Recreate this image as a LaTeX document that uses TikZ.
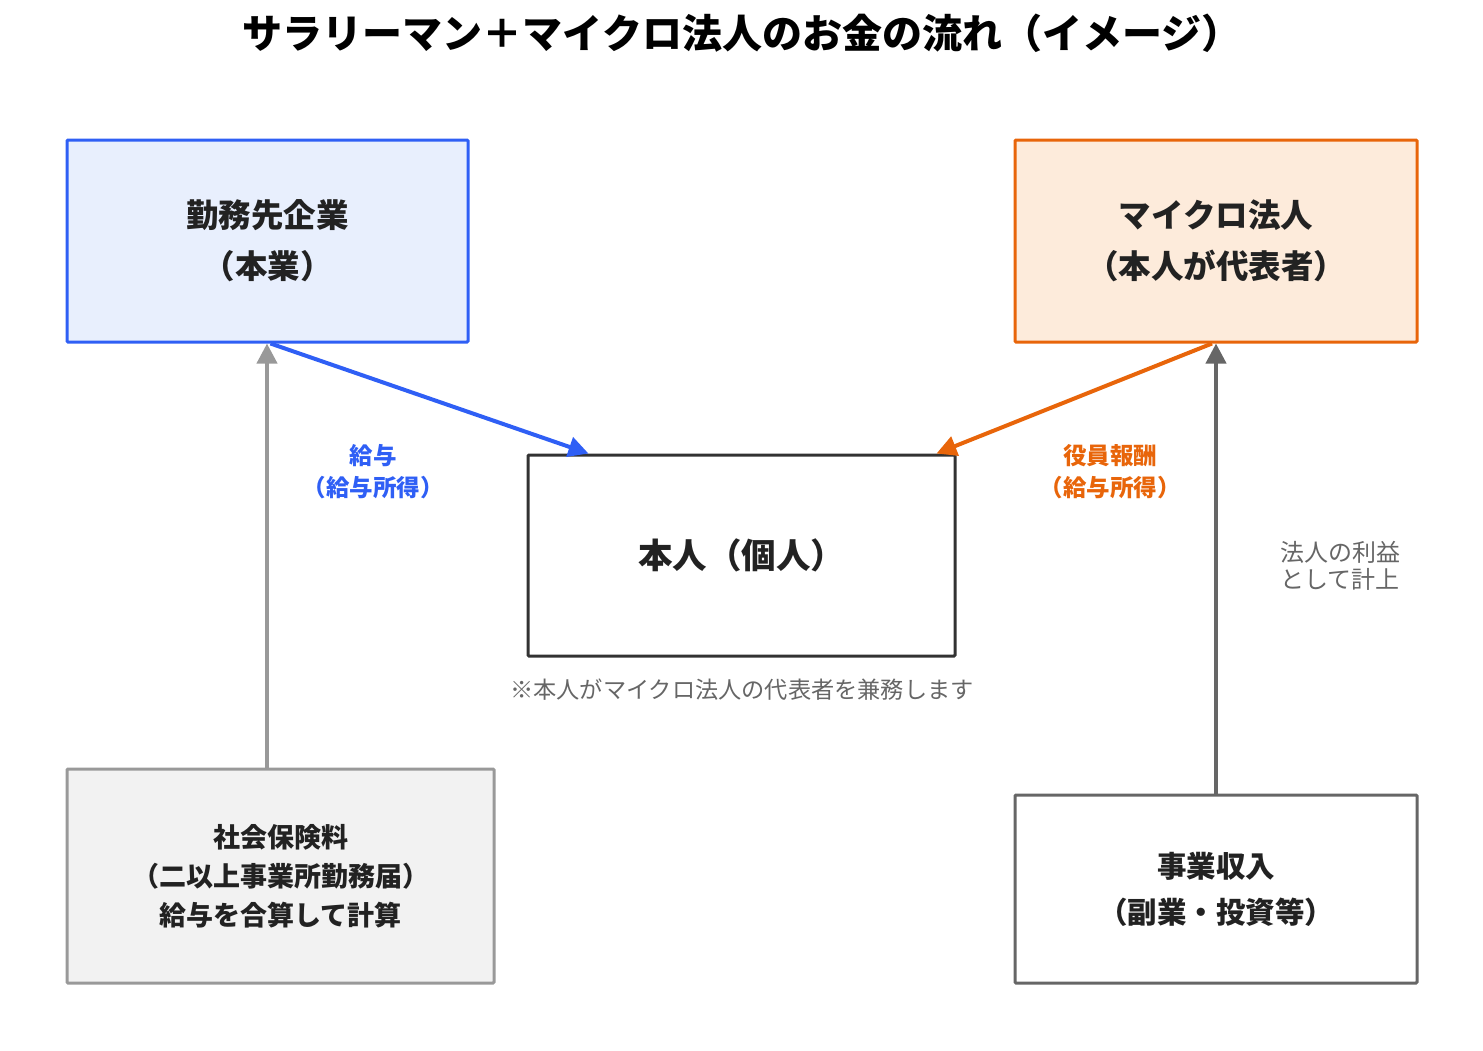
\documentclass[tikz,border=0pt]{standalone}
\usepackage{fontspec}
\setmainfont{Noto Sans CJK JP}
\usetikzlibrary{arrows.meta,calc}
\definecolor{bl}{HTML}{2F5FF5}
\definecolor{blf}{HTML}{E8EFFD}
\definecolor{or}{HTML}{E8650A}
\definecolor{orf}{HTML}{FDEBDB}
\definecolor{dk}{HTML}{333333}
\definecolor{gr}{HTML}{999999}
\definecolor{grf}{HTML}{F2F2F2}
\definecolor{dg}{HTML}{666666}
\definecolor{tx}{HTML}{222222}
\begin{document}
\begin{tikzpicture}[x=1pt,y=-1pt,
 box/.style={draw,line width=3pt,rounded corners=1pt,align=center,inner sep=0pt,text=tx,font=\bfseries},
 arr/.style={line width=4pt,-{Triangle[length=20pt,width=20pt]}},
 lab/.style={align=center,font=\bfseries\fontsize{23.5}{32}\selectfont}]
\useasboundingbox (0,0) rectangle (1483,1050);
\node[font=\bfseries\fontsize{40}{46}\selectfont,text=black] (t) at (742,33) {サラリーマン＋マイクロ法人のお金の流れ（イメージ）};
\node[box,draw=bl,fill=blf,minimum width=401pt,minimum height=202pt,font=\bfseries\fontsize{32.5}{51}\selectfont] (a) at (267.5,241) {勤務先企業\\（本業）};
\node[box,draw=or,fill=orf,minimum width=402pt,minimum height=202pt,font=\bfseries\fontsize{32.5}{51}\selectfont] (m) at (1216,241) {マイクロ法人\\（本人が代表者）};
\node[box,draw=dk,fill=white,minimum width=427pt,minimum height=201pt,font=\bfseries\fontsize{34.5}{40}\selectfont] (p) at (741.5,555.5) {本人（個人）};
\node[box,draw=gr,fill=grf,minimum width=427pt,minimum height=214pt,font=\bfseries\fontsize{27}{39}\selectfont] (s) at (280.5,876) {社会保険料\\（二以上事業所勤務届）\\給与を合算して計算};
\node[box,draw=dg,fill=white,minimum width=402pt,minimum height=188pt,font=\bfseries\fontsize{29.5}{46}\selectfont] (j) at (1216,889) {事業収入\\（副業・投資等）};
\coordinate (a1) at ($(a.south)+(3,0)$);
\coordinate (p1) at ($(p.north west)+(62,0)$);
\coordinate (m1) at ($(m.south)+(-4,0)$);
\coordinate (p2) at ($(p.north east)+(-20,0)$);
\draw[arr,bl] (a1) -- (p1);
\draw[arr,or] (m1) -- (p2);
\draw[arr,gr] (s.north -| 267,0) -- (a.south -| 267,0);
\draw[arr,dg] (j.north) -- (m.south);
\node[lab,text=bl] (l1) at (373,472) {給与\\（給与所得）};
\node[lab,text=or] (l2) at (1110,472) {役員報酬\\（給与所得）};
\node[align=center,text=dg,font=\fontsize{24}{27}\selectfont] (l3) at (1340,566) {法人の利益\\として計上};
\node[text=dg,font=\fontsize{23.2}{28}\selectfont] (n) at (742,690) {※本人がマイクロ法人の代表者を兼務します};
\end{tikzpicture}
\end{document}
